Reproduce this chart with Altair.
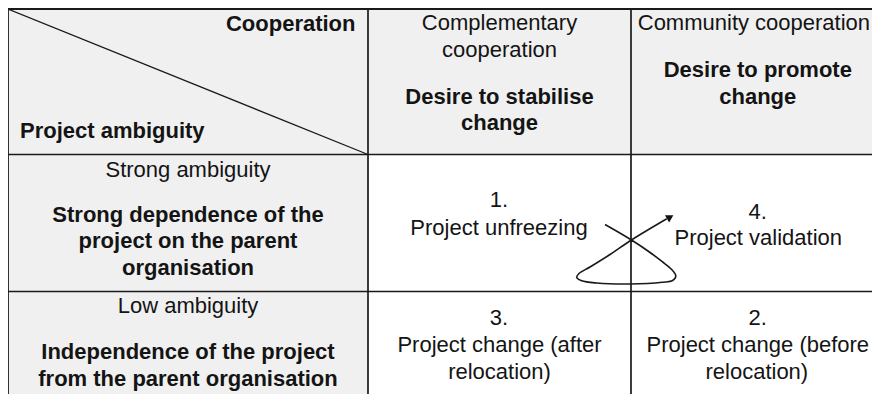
import altair as alt
import pandas as pd

# ---- table grid (figure pixel coordinates) ----
col_edges = [8, 368, 631, 880]
row_edges = [9, 154.5, 291.5, 394]

# ---- cell texts ----
label_text = [
    "Cooperation", "Project ambiguity",
    "Complementary", "cooperation", "Desire to stabilise", "change",
    "Community cooperation", "Desire to promote", "change",
    "Strong ambiguity", "Strong dependence of the", "project on the parent", "organisation",
    "Low ambiguity", "Independence of the project", "from the parent organisation",
    "1.", "Project unfreezing",
    "4.", "Project validation",
    "3.", "Project change (after", "relocation)",
    "2.", "Project change (before", "relocation)",
]
label_x = [
    355.5, 20,
    499.5, 499.5, 499.5, 499.5,
    758, 762, 762,
    188, 188, 188, 188,
    188, 188, 188,
    499, 499,
    762, 762.5,
    499, 499.5, 499.5,
    762, 762, 761,
]
label_y = [
    30.5, 137.5,
    30, 56.5, 103.5, 130,
    30, 76.5, 103.5,
    176.5, 221.5, 248, 275,
    312.5, 358.5, 386,
    207, 235,
    218.5, 245,
    325, 351.5, 378.5,
    325, 351.5, 378.5,
]
label_weight = [
    "bold", "bold",
    "normal", "normal", "bold", "bold",
    "normal", "bold", "bold",
    "normal", "bold", "bold", "bold",
    "normal", "bold", "bold",
    "normal", "normal",
    "normal", "normal",
    "normal", "normal", "normal",
    "normal", "normal", "normal",
]
label_align = ["right", "left"] + ["center"] * 24

# ---- loop arrow between cells 1 and 4 ----
loop_x = [605, 631.5, 650, 663.3, 673, 677.3, 674, 663.3, 630, 596.7, 581.7, 576.7, 579, 590, 610, 631.5, 668]
loop_y = [224.5, 240, 252, 261.7, 269.5, 276, 280.5, 282.3, 284, 283, 280.7, 277.3, 273.5, 267, 254.5, 240, 218.8]
arrow_x = [671.5]
arrow_y = [217]

FONT = "Liberation Sans"
W, H = 864, 386
# piecewise x scale: first two columns 1:1, the cropped third column slightly narrowed
xs = alt.Scale(domain=[8, 631, 880], range=[0, 623, W], nice=False, zero=False)
ys = alt.Scale(domain=[8, 394], range=[0, H], nice=False, zero=False)


def X(f, **k):
    return alt.X(f, type="quantitative", scale=xs, axis=None, **k)


def Y(f, **k):
    return alt.Y(f, type="quantitative", scale=ys, axis=None, **k)


# gray header row and left column
fills = pd.DataFrame({
    "x": [col_edges[0], col_edges[0]],
    "x2": [col_edges[3], col_edges[1]],
    "y": [row_edges[0], row_edges[1]],
    "y2": [row_edges[1], row_edges[3]],
})
rects = alt.Chart(fills).mark_rect(color="#f0f0f0", clip=True).encode(
    x=X("x"), x2="x2", y=Y("y"), y2="y2"
)

# grid lines
lines = pd.DataFrame({
    "x": [col_edges[0], col_edges[1], col_edges[2], col_edges[0], col_edges[0], col_edges[0], col_edges[0]],
    "x2": [col_edges[0], col_edges[1], col_edges[2], col_edges[3], col_edges[3], col_edges[3], col_edges[1]],
    "y": [row_edges[0], row_edges[0], row_edges[0], row_edges[0], row_edges[1], row_edges[2], row_edges[0]],
    "y2": [row_edges[3], row_edges[3], row_edges[3], row_edges[0], row_edges[1], row_edges[2], row_edges[1]],
    "w": [1.8, 1.7, 1.7, 2.0, 1.7, 1.7, 1.3],
})
rules = alt.Chart(lines).mark_rule(color="#1a1a1a", clip=True).encode(
    x=X("x"), x2="x2", y=Y("y"), y2="y2",
    strokeWidth=alt.StrokeWidth("w:Q", scale=None),
)

labels = pd.DataFrame({
    "text": label_text, "x": label_x, "y": label_y,
    "weight": label_weight, "halign": label_align,
})

text_layers = []
for weight in ["normal", "bold"]:
    for align in ["left", "center", "right"]:
        sub = labels[(labels["weight"] == weight) & (labels["halign"] == align)]
        if len(sub) == 0:
            continue
        text_layers.append(
            alt.Chart(sub).mark_text(
                font=FONT, fontSize=22, fontWeight=weight, align=align,
                baseline="alphabetic", color="#141414",
            ).encode(x=X("x"), y=Y("y"), text="text:N")
        )

loop = pd.DataFrame({"x": loop_x, "y": loop_y, "i": list(range(len(loop_x)))})
curve = alt.Chart(loop).mark_line(
    interpolate="catmull-rom", color="#1a1a1a", strokeWidth=1.6
).encode(x=X("x"), y=Y("y"), order="i:Q")

head = alt.Chart(pd.DataFrame({"x": arrow_x, "y": arrow_y})).mark_point(
    shape="triangle-up", filled=True, size=70, angle=60, color="#111", opacity=1
).encode(x=X("x"), y=Y("y"))

chart = alt.layer(rects, rules, *text_layers, curve, head).properties(
    width=W, height=H, padding=0, autosize="none"
).configure_view(stroke=None)

chart.save("out.html", embed_options={"renderer": "svg", "actions": False})
